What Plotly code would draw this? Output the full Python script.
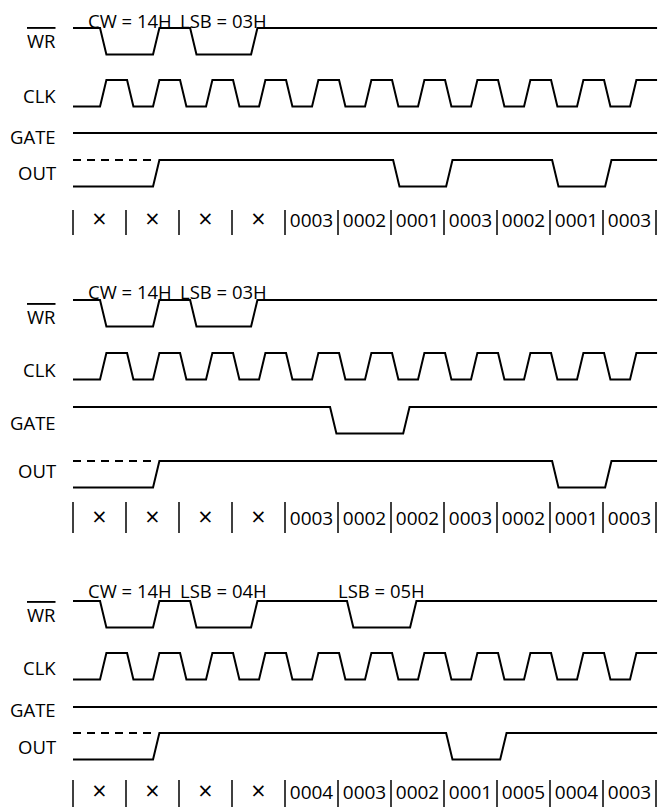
import plotly.graph_objects as go

# ---------------- data (time in clock periods) ----------------
T_END = 11.02
EDGE = 0.12

signal_names = ["WR", "CLK", "GATE", "OUT"]

clk_rise = [0.51, 1.51, 2.51, 3.51, 4.51, 5.51, 6.51, 7.51, 8.51, 9.51, 10.51]
clk_fall = [1.02, 2.02, 3.02, 4.02, 5.02, 6.02, 7.02, 8.02, 9.02, 10.02]

# panel 1
p1_wr_fall = [0.51, 2.21]
p1_wr_rise = [1.51, 3.36]
p1_gate_fall = []
p1_gate_rise = []
p1_out_fall = [6.04, 9.04]
p1_out_rise = [1.51, 7.04, 10.04]
p1_values = ["×", "×", "×", "×", "0003", "0002", "0001", "0003", "0002", "0001", "0003"]
p1_wr_text = ["CW = 14H", "LSB = 03H"]

# panel 2
p2_wr_fall = [0.51, 2.21]
p2_wr_rise = [1.51, 3.36]
p2_gate_fall = [4.85]
p2_gate_rise = [6.23]
p2_out_fall = [9.04]
p2_out_rise = [1.51, 10.04]
p2_values = ["×", "×", "×", "×", "0003", "0002", "0002", "0003", "0002", "0001", "0003"]
p2_wr_text = ["CW = 14H", "LSB = 03H"]

# panel 3
p3_wr_fall = [0.51, 2.21, 5.17]
p3_wr_rise = [1.51, 3.36, 6.36]
p3_gate_fall = []
p3_gate_rise = []
p3_out_fall = [7.04]
p3_out_rise = [1.51, 8.06]
p3_values = ["×", "×", "×", "×", "0004", "0003", "0002", "0001", "0005", "0004", "0003"]
p3_wr_text = ["CW = 14H", "LSB = 04H", "LSB = 05H"]

# ---------------- layout (pixel rows, y axis is in px units) ----------------
W, H = 662, 807
X0_PX, PERIOD_PX = 73, 53
AMP = 26.5
panels_layout = [
    dict(rows={"WR": 28, "CLK": 80, "GATE": 133, "OUT": 160}, val_y=222, bar=(210, 235),
         label_y={"WR": 40, "CLK": 95, "GATE": 136, "OUT": 172}, text_y=20),
    dict(rows={"WR": 300, "CLK": 353, "GATE": 407, "OUT": 461}, val_y=520, bar=(502, 533),
         label_y={"WR": 316, "CLK": 369, "GATE": 422, "OUT": 470}, text_y=291),
    dict(rows={"WR": 601, "CLK": 653, "GATE": 707, "OUT": 733}, val_y=794, bar=(780, 807),
         label_y={"WR": 614, "CLK": 667, "GATE": 709, "OUT": 746}, text_y=590),
]

panels_data = [
    dict(wr=(p1_wr_fall, p1_wr_rise), gate=(p1_gate_fall, p1_gate_rise),
         out=(p1_out_fall, p1_out_rise), values=p1_values, wr_text=p1_wr_text),
    dict(wr=(p2_wr_fall, p2_wr_rise), gate=(p2_gate_fall, p2_gate_rise),
         out=(p2_out_fall, p2_out_rise), values=p2_values, wr_text=p2_wr_text),
    dict(wr=(p3_wr_fall, p3_wr_rise), gate=(p3_gate_fall, p3_gate_rise),
         out=(p3_out_fall, p3_out_rise), values=p3_values, wr_text=p3_wr_text),
]

FONT = "Open Sans, Noto Sans, DejaVu Sans, sans-serif"
LINE = dict(color="black", width=2)


def waveform(init, falls, rises, y_high):
    edges = sorted([(t, 0) for t in falls] + [(t, 1) for t in rises])
    lvl = init
    xs, ys = [0.0], [lvl]
    for t, new in edges:
        xs += [t, t + EDGE]
        ys += [lvl, new]
        lvl = new
    xs.append(T_END)
    ys.append(lvl)
    return xs, [y_high + (1 - v) * AMP for v in ys]


fig = go.Figure()
annotations = []

for lay, dat in zip(panels_layout, panels_data):
    rows = lay["rows"]
    # WR
    x, y = waveform(1, dat["wr"][0], dat["wr"][1], rows["WR"])
    fig.add_trace(go.Scatter(x=x, y=y, mode="lines", line=LINE, hoverinfo="skip"))
    # CLK
    x, y = waveform(0, clk_fall, clk_rise, rows["CLK"])
    fig.add_trace(go.Scatter(x=x, y=y, mode="lines", line=LINE, hoverinfo="skip"))
    # GATE
    x, y = waveform(1, dat["gate"][0], dat["gate"][1], rows["GATE"])
    fig.add_trace(go.Scatter(x=x, y=y, mode="lines", line=LINE, hoverinfo="skip"))
    # OUT (solid, starts low) + dashed undefined-high part
    x, y = waveform(0, dat["out"][0], dat["out"][1], rows["OUT"])
    fig.add_trace(go.Scatter(x=x, y=y, mode="lines", line=LINE, hoverinfo="skip"))
    first_rise = min(dat["out"][1])
    fig.add_trace(go.Scatter(x=[0, first_rise + EDGE * 0.4], y=[rows["OUT"], rows["OUT"]],
                             mode="lines", line=dict(color="black", width=2, dash="8px,6px"),
                             hoverinfo="skip"))
    # cell dividers
    n = len(dat["values"])
    bx, by = [], []
    for k in range(n + 1):
        bx += [k, k, None]
        by += [lay["bar"][0], lay["bar"][1], None]
    fig.add_trace(go.Scatter(x=bx, y=by, mode="lines", line=dict(color="black", width=1.5),
                             hoverinfo="skip"))
    # cell values
    sizes = [25 if v == "×" else 19 for v in dat["values"]]
    fig.add_trace(go.Scatter(x=[k + 0.5 for k in range(n)], y=[lay["val_y"]] * n,
                             mode="text", text=dat["values"],
                             textfont=dict(family=FONT, size=sizes, color="black"),
                             hoverinfo="skip"))
    # write-pulse annotations centred over each WR low pulse
    for fall, rise, txt in zip(sorted(dat["wr"][0]), sorted(dat["wr"][1]), dat["wr_text"]):
        annotations.append(dict(x=(fall + rise + EDGE) / 2, y=lay["text_y"], xref="x", yref="y",
                                text=txt, showarrow=False, xanchor="center", yanchor="middle",
                                font=dict(family=FONT, size=18.5, color="black")))
    # signal names
    for name in signal_names:
        label = '<span style="text-decoration:overline">WR</span>' if name == "WR" else name
        annotations.append(dict(x=58 / W, y=lay["label_y"][name], xref="paper", yref="y",
                                text=label, showarrow=False, xanchor="right", yanchor="middle",
                                font=dict(family=FONT, size=18.5, color="black")))

fig.update_layout(
    width=W, height=H,
    margin=dict(l=0, r=0, t=0, b=0),
    paper_bgcolor="white", plot_bgcolor="white",
    showlegend=False,
    xaxis=dict(range=[-X0_PX / PERIOD_PX, (W - X0_PX) / PERIOD_PX], visible=False, fixedrange=True),
    yaxis=dict(range=[H, 0], visible=False, fixedrange=True),
    annotations=annotations,
)

fig.write_html("out.html", config={"displayModeBar": False},
               post_script="document.body.style.margin='0px';")
